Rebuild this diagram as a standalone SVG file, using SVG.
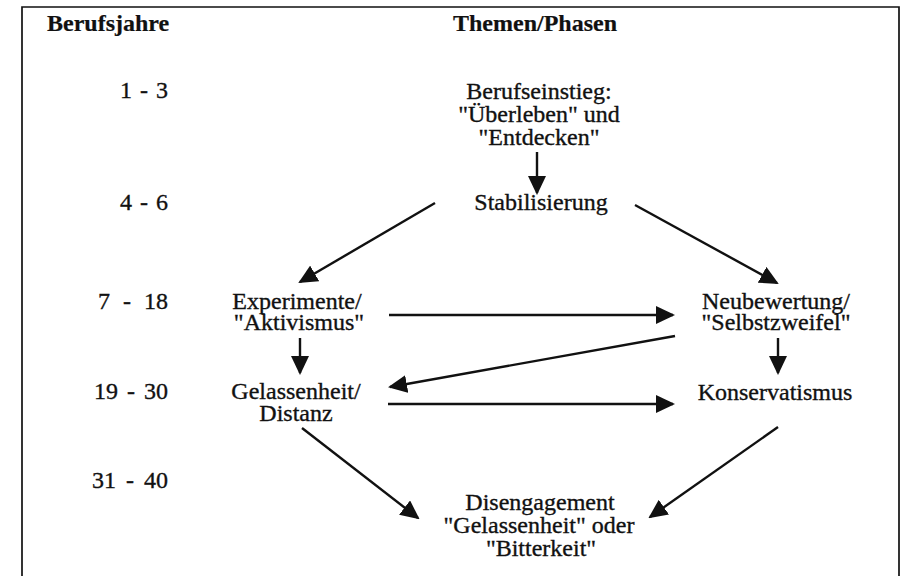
<svg xmlns="http://www.w3.org/2000/svg" width="903" height="576" viewBox="0 0 903 576">
<style>
  text { font-family: "Liberation Serif", "Times New Roman", serif; font-size: 24px; fill: #111; stroke: #111; stroke-width: 0.35; }
  .hd { font-weight: bold; stroke-width: 0.2; }
  .num { text-anchor: end; }
  .c { text-anchor: middle; }
  .frame { fill: none; stroke: #111; stroke-width: 1.7; }
  .conn line { stroke: #111; stroke-width: 2.4; marker-end: url(#ah); }
</style>
<defs>
  <marker id="ah" viewBox="0 0 19 18" refX="17" refY="9" markerWidth="19" markerHeight="18" orient="auto" markerUnits="userSpaceOnUse">
    <path d="M0,0 L19,9 L0,18 Z" fill="#111"/>
  </marker>
</defs>
<rect width="903" height="576" fill="#fff"/>
<path class="frame" d="M22,576 L22,7 L899,7 L899,576"/>

<g id="headers">
  <text class="hd" x="47" y="31">Berufsjahre</text>
  <text class="hd" x="453" y="31">Themen/Phasen</text>
</g>

<g id="years">
  <text class="num" x="168" y="98" style="word-spacing:2px">1 - 3</text>
  <text class="num" x="168" y="210" style="word-spacing:2px">4 - 6</text>
  <text class="num" x="168" y="309" style="word-spacing:7px">7 - 18</text>
  <text class="num" x="168" y="399" style="word-spacing:3px">19 - 30</text>
  <text class="num" x="168" y="488" style="word-spacing:4px">31 - 40</text>
</g>

<g id="berufseinstieg">
  <text class="c" x="539" y="99">Berufseinstieg:</text>
  <text class="c" x="539" y="122">"Überleben" und</text>
  <text class="c" x="539" y="145">"Entdecken"</text>
</g>
<g id="stabilisierung">
  <text class="c" x="541" y="210">Stabilisierung</text>
</g>
<g id="experimente">
  <text class="c" x="297" y="309">Experimente/</text>
  <text class="c" x="299" y="330">"Aktivismus"</text>
</g>
<g id="neubewertung">
  <text class="c" x="776" y="309">Neubewertung/</text>
  <text class="c" x="776" y="330">"Selbstzweifel"</text>
</g>
<g id="gelassenheit">
  <text class="c" x="296" y="399">Gelassenheit/</text>
  <text class="c" x="296" y="421">Distanz</text>
</g>
<g id="konservatismus">
  <text class="c" x="775" y="400">Konservatismus</text>
</g>
<g id="disengagement">
  <text class="c" x="540" y="510">Disengagement</text>
  <text class="c" x="539" y="533">"Gelassenheit" oder</text>
  <text class="c" x="541" y="556">"Bitterkeit"</text>
</g>

<g id="connectors" class="conn">
  <line x1="537" y1="152" x2="537" y2="193"/>
  <line x1="435" y1="203" x2="300" y2="282"/>
  <line x1="635" y1="205" x2="777" y2="283"/>
  <line x1="300" y1="338" x2="300" y2="373"/>
  <line x1="778" y1="338" x2="778" y2="373"/>
  <line x1="389" y1="315" x2="673" y2="315"/>
  <line x1="675" y1="336" x2="390" y2="387"/>
  <line x1="388" y1="404" x2="673" y2="404"/>
  <line x1="302" y1="428" x2="418" y2="518"/>
  <line x1="778" y1="427" x2="650" y2="517"/>
</g>
</svg>
